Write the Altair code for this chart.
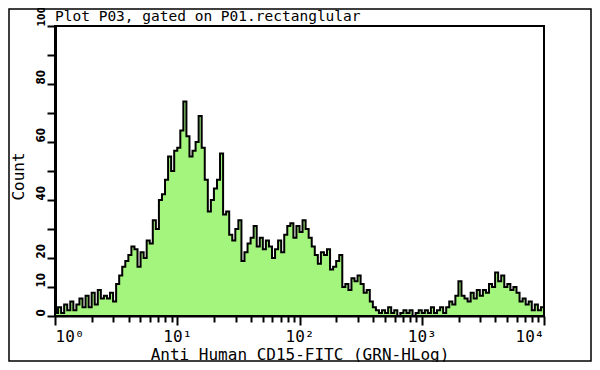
import altair as alt
import pandas as pd

# Histogram counts, 40 channels per decade
decade1 = [1, 3, 1, 4, 2, 5, 2, 4, 6, 3, 7, 3, 8, 4, 9, 6, 7, 6, 8, 5,
           11, 14, 17, 19, 21, 24, 23, 17, 22, 20, 26, 25, 33, 30, 40, 42, 47, 55, 50, 57]
decade2 = [58, 64, 74, 62, 55, 57, 60, 69, 58, 47, 36, 40, 44, 47, 56, 35, 36, 28, 26, 30,
           33, 19, 22, 25, 27, 31, 24, 27, 23, 26, 24, 20, 23, 26, 22, 28, 31, 32, 27, 31]
decade3 = [29, 33, 30, 27, 24, 21, 18, 22, 21, 23, 16, 17, 19, 21, 10, 11, 9, 13, 12, 14,
           11, 8, 9, 5, 3, 2, 1, 2, 1, 3, 1, 2, 0, 1, 2, 1, 2, 0, 1, 2]
decade4 = [1, 2, 1, 3, 1, 2, 3, 1, 3, 5, 4, 7, 12, 7, 6, 5, 8, 6, 9, 7,
           9, 8, 11, 10, 15, 12, 14, 10, 11, 9, 10, 8, 5, 6, 4, 5, 2, 4, 2, 3]

x_major = [1, 10, 100, 1000, 10000]
x_minor = [k * m for m in [1, 10, 100, 1000] for k in range(2, 10)]
y_ticks = list(range(0, 101, 10))
y_hidden = [30, 50, 70, 90]

title_text = "Plot P03, gated on P01.rectanglular"
x_title = "Anti Human CD15-FITC (GRN-HLog)"
y_title = "Count"

counts = decade1 + decade2 + decade3 + decade4
n = len(counts)
edges = [10 ** (4 * i / n) for i in range(n)] + [10 ** 4]
df = pd.DataFrame({"fl": edges, "count": counts + [counts[-1]]})

FONT = "DejaVu Sans Mono"
NARROW = "Liberation Sans Narrow, DejaVu Sans Condensed, DejaVu Sans Mono"
W, H = 489, 290
PL, PT, PR, PB = 47, 18, 48, 46

x_label_expr = (
    "datum.value == 1 ? '10⁰' : datum.value == 10 ? '10¹' : datum.value == 100 ? '10²' : "
    "datum.value == 1000 ? '10³' : datum.value == 10000 ? '10⁴' : ''"
)
y_label_expr = "indexof(%s, datum.value) >= 0 ? '' : datum.label" % str(y_hidden)

hist = alt.Chart(df).mark_area(
    interpolate="step-after",
    color="#a4f57e",
    opacity=1,
    line={"color": "black", "strokeWidth": 2},
).encode(
    x=alt.X(
        "fl:Q",
        scale=alt.Scale(type="log", domain=[1, 10000], nice=False),
        axis=alt.Axis(
            values=x_major + x_minor,
            labelExpr=x_label_expr,
            labelOverlap=False,
            title=x_title,
            titleFont=FONT,
            titleFontSize=16,
            titleFontWeight="normal",
            titleY=43,
            titleBaseline="alphabetic",
            labelFont=FONT,
            labelFontSize=16,
            labelPadding=3,
            tickSize={"condition": {"test": "indexof([1,10,100,1000,10000], datum.value) >= 0", "value": 9}, "value": 6},
            tickColor="black",
            tickWidth=2,
            domainColor="black",
            domainWidth=2,
            grid=False,
            labelColor="black",
            titleColor="black",
        ),
    ),
    y=alt.Y(
        "count:Q",
        scale=alt.Scale(domain=[0, 100], nice=False),
        axis=alt.Axis(
            values=y_ticks,
            labelExpr=y_label_expr,
            labelAngle=-90,
            labelAlign="left",
            labelBaseline="bottom",
            labelFont=NARROW,
            labelFontSize={"condition": {"test": "datum.value == 100", "value": 10.5}, "value": 11.5},
            labelFontWeight="bold",
            labelPadding=1,
            tickSize=8,
            tickWidth=2,
            tickColor="black",
            domainColor="black",
            domainWidth=3,
            grid=False,
            title=y_title,
            titleFont=FONT,
            titleFontSize=16,
            titleFontWeight="normal",
            titleX=-29,
            titleY=150,
            labelColor="black",
            titleColor="black",
        ),
    ),
)

title_layer = alt.Chart(pd.DataFrame({"t": [title_text]})).mark_text(
    font=FONT, fontSize=14.5, align="left", baseline="alphabetic", color="black"
).encode(x=alt.value(0), y=alt.value(-5), text="t:N")

plot_frame = alt.Chart(pd.DataFrame({"a": [0]})).mark_rect(
    fill="transparent", stroke="black", strokeWidth=2
).encode(
    x=alt.value(0), x2=alt.value(W),
    y=alt.value(0), y2=alt.value(H),
)

outer_frame = alt.Chart(pd.DataFrame({"a": [0]})).mark_rect(
    fill="transparent", stroke="black", strokeWidth=1.5
).encode(
    x=alt.value(-PL + 1), x2=alt.value(W + PR - 1),
    y=alt.value(-PT + 1), y2=alt.value(H + PB - 1),
)

chart = alt.layer(hist, plot_frame, title_layer, outer_frame).properties(
    width=W,
    height=H,
    autosize=alt.AutoSizeParams(type="none"),
    padding={"left": PL, "top": PT, "right": PR, "bottom": PB},
).configure_view(strokeWidth=0).configure(background="white")

chart.save("out.html", embed_options={"renderer": "svg", "actions": False})
